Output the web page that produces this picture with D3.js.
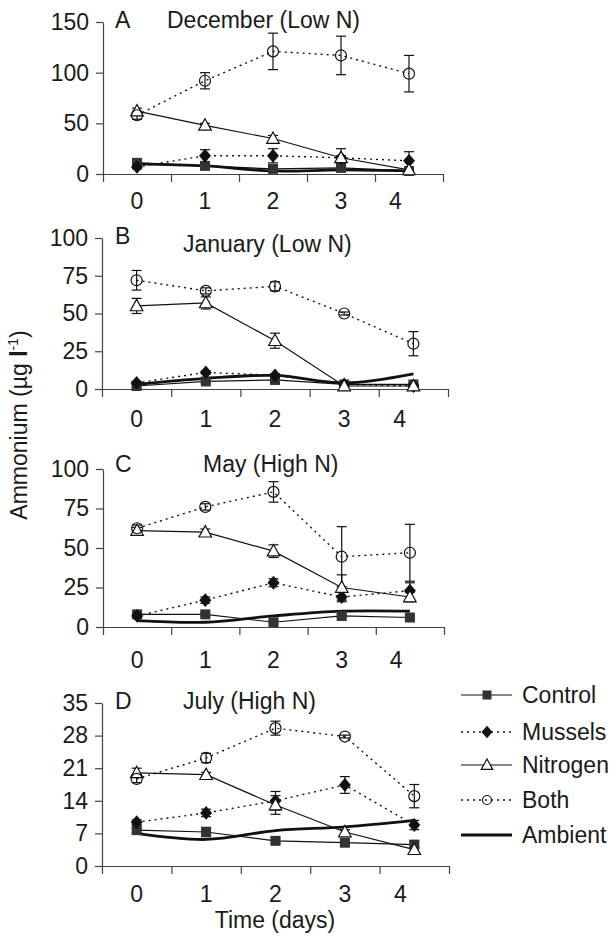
<!DOCTYPE html>
<html>
<head>
<meta charset="utf-8">
<script src="https://cdn.jsdelivr.net/npm/d3@7"></script>
<style>
  body { margin: 0; background: #fff; }
  text { font-family: "Liberation Sans", Arial, sans-serif; fill: #1a1a1a; }
</style>
</head>
<body>
<div id="chart"></div>
<script>
// x categories (days) and where their labels sit
var days = [0, 1, 2, 3, 4];
var dayLabels = ["0", "1", "2", "3", "4"];
var dayLabelPos = [0, 1, 2, 3, 3.8];
var seriesNames = ["Control", "Mussels", "Nitrogen", "Both", "Ambient"];

// A - December (Low N)
var decControl = [11, 8, 5, 6, 3];
var decControlErr = [2, 1, 1, 1, 1];
var decMussels = [7, 18, 18, 16, 13];
var decMusselsErr = [2, 6, 7, 9, 9];
var decNitrogen = [62, 48, 35, 16, 4];
var decNitrogenErr = [3, 2, 3, 2, 1];
var decBoth = [58, 92, 121, 117, 99];
var decBothErr = [4, 8, 18, 19, 18];
var decAmbient = [10, 8, 3, 4, 3];

// B - January (Low N)
var janControl = [2, 5, 6, 3, 3];
var janControlErr = [1, 1, 1, 1, 1];
var janMussels = [4, 11, 9, 3, 2];
var janMusselsErr = [1, 1, 1, 1, 1];
var janNitrogen = [55, 57, 32, 2, 2];
var janNitrogenErr = [5, 4, 5, 1, 1];
var janBoth = [72, 65, 68, 50, 30];
var janBothErr = [6.5, 2, 3, 1, 8];
var janAmbient = [3, 7, 9, 4, 10];

// C - May (High N)
var mayControl = [8, 8, 3, 7, 6];
var mayControlErr = [1, 1, 1, 1, 1];
var mayMussels = [7, 17, 28, 19, 23];
var mayMusselsErr = [1, 2, 2.5, 3, 5];
var mayNitrogen = [61, 60, 48, 25, 19];
var mayNitrogenErr = [2, 2, 4, 8, 3];
var mayBoth = [62.5, 76, 85.5, 44.5, 47];
var mayBothErr = [2, 2, 6.5, 19, 18];
var mayAmbient = [4, 3, 7, 10, 10];

// D - July (High N)
var julControl = [7.7, 7.3, 5.4, 5, 4.6];
var julControlErr = [0.5, 1, 0.5, 0.7, 0.7];
var julMussels = [9.4, 11.4, 14, 17.4, 8.8];
var julMusselsErr = [0.5, 0.8, 2, 1.8, 1];
var julNitrogen = [20, 19.6, 13.1, 7.3, 3.5];
var julNitrogenErr = [1, 0.5, 2, 0.5, 0.5];
var julBoth = [18.7, 23.2, 29.6, 27.8, 15];
var julBothErr = [0.8, 1, 1.5, 0.3, 2.5];
var julAmbient = [7, 5.7, 7.6, 8.4, 9.8];

var decTicks = [0, 50, 100, 150];
var janTicks = [0, 25, 50, 75, 100];
var mayTicks = [0, 25, 50, 75, 100];
var julTicks = [0, 7, 14, 21, 28, 35];

// panel layout (pixels)
var panels = [
  { letter: "A", title: "December (Low N)", ticks: decTicks,
    values: [decControl, decMussels, decNitrogen, decBoth, decAmbient],
    errors: [decControlErr, decMusselsErr, decNitrogenErr, decBothErr, null],
    top: 22, bottom: 174, left: 103, right: 443, labelDy: 35,
    letterY: 28, titleX: 167, titleY: 28 },
  { letter: "B", title: "January (Low N)", ticks: janTicks,
    values: [janControl, janMussels, janNitrogen, janBoth, janAmbient],
    errors: [janControlErr, janMusselsErr, janNitrogenErr, janBothErr, null],
    top: 238, bottom: 389, left: 102, right: 448, labelDy: 38,
    letterY: 244, titleX: 183, titleY: 252 },
  { letter: "C", title: "May (High N)", ticks: mayTicks,
    values: [mayControl, mayMussels, mayNitrogen, mayBoth, mayAmbient],
    errors: [mayControlErr, mayMusselsErr, mayNitrogenErr, mayBothErr, null],
    top: 469, bottom: 627, left: 103, right: 444, labelDy: 41,
    letterY: 472, titleX: 203, titleY: 472 },
  { letter: "D", title: "July (High N)", ticks: julTicks,
    values: [julControl, julMussels, julNitrogen, julBoth, julAmbient],
    errors: [julControlErr, julMusselsErr, julNitrogenErr, julBothErr, null],
    top: 703, bottom: 866, left: 102, right: 449, labelDy: 36,
    letterY: 709, titleX: 183, titleY: 709 }
];

var styles = {
  Control:  { dash: null,  width: 1.2, marker: "square" },
  Mussels:  { dash: "2,4", width: 1.4, marker: "diamond" },
  Nitrogen: { dash: null,  width: 1.2, marker: "triangle" },
  Both:     { dash: "2,4", width: 1.4, marker: "circle" },
  Ambient:  { dash: null,  width: 2.8, marker: null }
};

var fontSize = 23;

var svg = d3.select("#chart")
  .append("svg")
  .attr("width", 616)
  .attr("height", 939);

function markerPath(type, s) {
  // s = half size
  if (type === "square") return "M" + (-s) + "," + (-s) + "h" + (2 * s) + "v" + (2 * s) + "h" + (-2 * s) + "Z";
  if (type === "diamond") return "M0," + (-s * 1.15) + "L" + s + ",0L0," + (s * 1.15) + "L" + (-s) + ",0Z";
  if (type === "triangle") return "M0," + (-s * 1.1) + "L" + (s * 1.05) + "," + (s * 0.8) + "L" + (-s * 1.05) + "," + (s * 0.8) + "Z";
  return null;
}

function drawMarker(g, type, cx, cy, s) {
  if (type === "circle") {
    g.append("circle").attr("cx", cx).attr("cy", cy).attr("r", s)
      .attr("fill", "none").attr("stroke", "#111").attr("stroke-width", 1.2);
  } else if (type === "square") {
    g.append("path").attr("d", markerPath(type, s)).attr("transform", "translate(" + cx + "," + cy + ")")
      .attr("fill", "#333");
  } else if (type === "diamond") {
    g.append("path").attr("d", markerPath(type, s)).attr("transform", "translate(" + cx + "," + cy + ")")
      .attr("fill", "#111");
  } else if (type === "triangle") {
    g.append("path").attr("d", markerPath(type, s)).attr("transform", "translate(" + cx + "," + cy + ")")
      .attr("fill", "#fff").attr("stroke", "#111").attr("stroke-width", 1.2);
  }
}

panels.forEach(function (p) {
  var x = d3.scaleLinear().domain([-0.5, 4.5]).range([p.left, p.right]);
  var y = d3.scaleLinear().domain([0, d3.max(p.ticks)]).range([p.bottom, p.top]);
  var g = svg.append("g");

  // y axis
  var ya = g.append("g")
    .attr("transform", "translate(" + p.left + ",0)")
    .call(d3.axisLeft(y).tickValues(p.ticks).tickSize(7).tickSizeOuter(0).tickPadding(7));
  ya.selectAll("text").style("font-size", fontSize + "px").attr("fill", "#1a1a1a");

  // x axis (ticks between days)
  var xa = g.append("g")
    .attr("transform", "translate(0," + p.bottom + ")")
    .call(d3.axisBottom(x).tickValues([-0.5, 0.5, 1.5, 2.5, 3.5, 4.5]).tickSize(8).tickSizeOuter(0).tickFormat(""));
  g.selectAll(".domain, .tick line").attr("stroke", "#444").attr("stroke-width", 1.2);

  g.selectAll(".daylabel")
    .data(dayLabels)
    .enter().append("text")
    .attr("x", function (d, i) { return x(dayLabelPos[i]); })
    .attr("y", p.bottom + p.labelDy)
    .attr("text-anchor", "middle")
    .style("font-size", fontSize + "px")
    .text(function (d) { return d; });

  g.append("text").attr("x", 115).attr("y", p.letterY)
    .style("font-size", fontSize + "px").text(p.letter);
  g.append("text").attr("x", p.titleX).attr("y", p.titleY)
    .style("font-size", fontSize + "px").text(p.title);

  // lines
  seriesNames.forEach(function (name, si) {
    var st = styles[name];
    var vals = p.values[si];
    var line = d3.line()
      .x(function (d, i) { return x(days[i]); })
      .y(function (d) { return y(d); })
      .curve(name === "Ambient" ? d3.curveCatmullRom : d3.curveLinear);
    g.append("path")
      .datum(vals)
      .attr("fill", "none")
      .attr("stroke", "#111")
      .attr("stroke-width", st.width)
      .attr("stroke-dasharray", st.dash)
      .attr("d", line);
  });

  // error bars and markers
  seriesNames.forEach(function (name, si) {
    var st = styles[name];
    var vals = p.values[si];
    var errs = p.errors[si];
    if (!errs) return;
    vals.forEach(function (v, i) {
      var cx = x(days[i]);
      var e = errs[i];
      g.append("line").attr("x1", cx).attr("x2", cx)
        .attr("y1", y(v - e)).attr("y2", y(v + e))
        .attr("stroke", "#111").attr("stroke-width", 1.2);
      [v - e, v + e].forEach(function (w) {
        g.append("line").attr("x1", cx - 5).attr("x2", cx + 5)
          .attr("y1", y(w)).attr("y2", y(w))
          .attr("stroke", "#111").attr("stroke-width", 1.2);
      });
    });
  });
  seriesNames.forEach(function (name, si) {
    var st = styles[name];
    if (!st.marker) return;
    p.values[si].forEach(function (v, i) {
      var s = st.marker === "circle" ? 5.5 : (st.marker === "square" ? 5 : 6);
      drawMarker(g, st.marker, x(days[i]), y(v), s);
    });
  });
});

// axis titles
svg.append("text")
  .attr("x", 275).attr("y", 928)
  .attr("text-anchor", "middle")
  .style("font-size", fontSize + "px")
  .text("Time (days)");

var yt = svg.append("text")
  .attr("transform", "translate(27,425) rotate(-90)")
  .attr("text-anchor", "middle")
  .style("font-size", fontSize + "px");
yt.append("tspan").text("Ammonium (µg ");
yt.append("tspan").style("font-weight", "bold").text("l");
yt.append("tspan").attr("dy", -9).style("font-size", "14px").text("-1");
yt.append("tspan").attr("dy", 9).text(")");

// legend
var legendY = [695, 732, 765, 800, 835];
var lg = svg.append("g");
seriesNames.forEach(function (name, i) {
  var st = styles[name];
  lg.append("line")
    .attr("x1", 461).attr("x2", 512)
    .attr("y1", legendY[i]).attr("y2", legendY[i])
    .attr("stroke", "#111")
    .attr("stroke-width", st.width)
    .attr("stroke-dasharray", st.dash);
  if (st.marker) {
    drawMarker(lg, st.marker, 487, legendY[i], st.marker === "circle" ? 4.5 : (st.marker === "square" ? 4.5 : 5.5));
  }
  lg.append("text")
    .attr("x", 522).attr("y", legendY[i] + 8)
    .style("font-size", fontSize + "px")
    .text(name);
});
</script>
</body>
</html>
